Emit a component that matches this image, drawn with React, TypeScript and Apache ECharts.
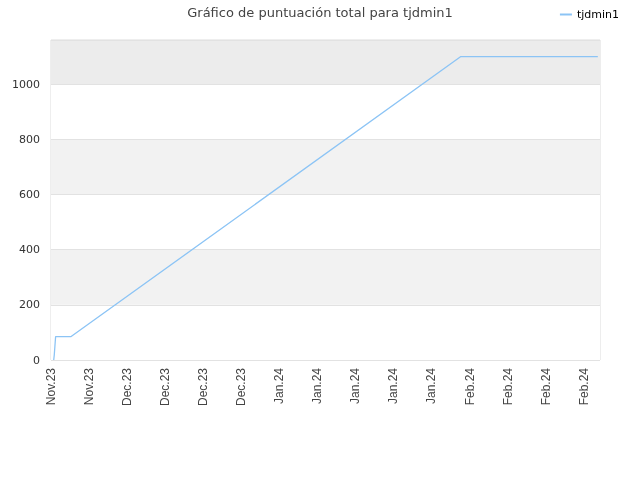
import * as echarts from "echarts";
import { useEffect, useRef } from "react";

// days since 20 Nov 2023 (fractional) and total score at that moment
const dayOffsets = [0.5, 0.6, 0.85, 3.7, 75.4, 100.6];
const scores = [0, 18, 85, 85, 1100, 1100];

const startDate = new Date(2023, 10, 20);
const monthNames = ["Jan", "Feb", "Mar", "Apr", "May", "Jun", "Jul", "Aug", "Sep", "Oct", "Nov", "Dec"];

function dayLabel(v: number) {
  const d = new Date(startDate.getTime() + v * 86400000);
  return monthNames[d.getMonth()] + "." + String(d.getFullYear()).slice(2);
}

export default function App() {
  const ref = useRef<HTMLDivElement>(null);

  useEffect(() => {
    const chart = echarts.init(ref.current!, null, { renderer: "svg" });
    chart.setOption({
      animation: false,
      title: {
        text: "Gráfico de puntuación total para tjdmin1",
        left: "center",
        top: 1,
        textStyle: {
          fontFamily: "DejaVu Sans",
          fontSize: 13,
          fontWeight: "normal",
          color: "#444",
        },
      },
      legend: {
        right: 16,
        top: 4,
        itemWidth: 12,
        itemHeight: 2,
        icon: "rect",
        textStyle: { fontFamily: "DejaVu Sans", fontSize: 11, color: "#000" },
        data: ["tjdmin1"],
      },
      grid: {
        left: 51,
        right: 40,
        top: 40,
        bottom: 120,
        show: true,
        borderColor: "#dcdcdc",
        borderWidth: 1,
      },
      xAxis: {
        type: "value",
        min: 0,
        max: 101,
        interval: 7,
        axisLine: { show: false },
        axisTick: { show: false },
        splitLine: { show: false },
        axisLabel: {
          rotate: 90,
          showMaxLabel: false,
          fontFamily: "Liberation Sans",
          fontSize: 12,
          color: "#444",
          margin: 8,
          formatter: (v: number) => dayLabel(v),
        },
      },
      yAxis: {
        type: "value",
        min: 0,
        max: 1160,
        interval: 200,
        axisLine: { show: false },
        axisTick: { show: false },
        axisLabel: {
          fontFamily: "DejaVu Sans",
          fontSize: 11,
          color: "#333",
          margin: 11,
          showMaxLabel: false,
          formatter: (v: number) => String(v),
        },
        splitLine: { show: true, lineStyle: { color: "#e2e2e2" } },
        splitArea: {
          show: true,
          areaStyle: {
            color: ["#ffffff", "#f2f2f2", "#ffffff", "#f2f2f2", "#ffffff", "#ececec"],
          },
        },
      },
      series: [
        {
          name: "tjdmin1",
          type: "line",
          data: dayOffsets.map((d, i) => [d, scores[i]]),
          symbol: "none",
          lineStyle: { color: "#8cc4f5", width: 1.3 },
          itemStyle: { color: "#8cc4f5" },
        },
      ],
    });
    return () => chart.dispose();
  }, []);

  return (
    <div
      ref={ref}
      style={{ position: "fixed", left: 0, top: 0, width: 640, height: 480 }}
    />
  );
}
